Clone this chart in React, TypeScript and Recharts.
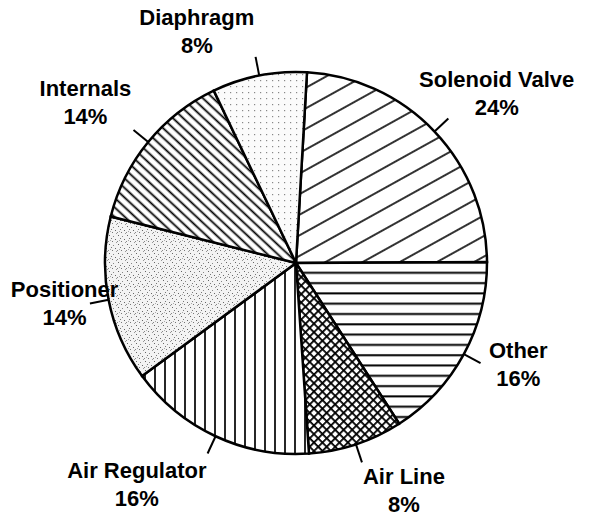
import { Cell, Pie, PieChart } from "recharts";

const categories = [
  "Solenoid Valve",
  "Other",
  "Air Line",
  "Air Regulator",
  "Positioner",
  "Internals",
  "Diaphragm",
];
const shares = [24, 16, 8, 16, 14, 14, 8];
const patterns = ["pSolenoid", "pOther", "pAirLine", "pAirReg", "pPositioner", "pInternals", "pDiaphragm"];

const data = categories.map((name, i) => ({ name, value: shares[i] }));

// hand-placed label layout from the original figure (offset from radial spot)
const labelNudge: Record<string, [number, number]> = {
  "Solenoid Valve": [23, -1],
  Other: [7, -16],
  "Air Line": [31, -6],
  "Air Regulator": [-56, -1],
  Positioner: [9, -7],
  Internals: [-21, -6],
  Diaphragm: [-52, 8],
};

const RAD = Math.PI / 180;

function renderLabel(props: any) {
  const { cx, cy, midAngle, outerRadius, name, value } = props;
  const cos = Math.cos(-midAngle * RAD);
  const sin = Math.sin(-midAngle * RAD);
  const [dx, dy] = labelNudge[name] ?? [0, 0];
  const lx = cx + 245 * cos + dx;
  const ly = cy + 245 * sin + dy;
  return (
    <g key={name}>
      <line
        x1={cx + outerRadius * cos}
        y1={cy + outerRadius * sin}
        x2={cx + (outerRadius + 19) * cos}
        y2={cy + (outerRadius + 19) * sin}
        stroke="#000"
        strokeWidth={2}
      />
      <text
        x={lx}
        textAnchor="middle"
        fill="#000"
        fontFamily="'Liberation Sans', Arial, sans-serif"
        fontWeight={700}
        fontSize={22}
      >
        <tspan x={lx} y={ly - 6}>{name}</tspan>
        <tspan x={lx} y={ly + 22}>{value}%</tspan>
      </text>
    </g>
  );
}

function Patterns() {
  return (
    <svg width={0} height={0} style={{ position: "absolute" }}>
      <defs>
        <pattern id="pSolenoid" patternUnits="userSpaceOnUse" width={18} height={18} patternTransform="rotate(-29)">
          <rect width={18} height={18} fill="#fff" />
          <line x1={0} y1={9} x2={18} y2={9} stroke="#000" strokeWidth={1.6} />
        </pattern>
        <pattern id="pOther" patternUnits="userSpaceOnUse" width={10} height={10.3}>
          <rect width={10} height={10.3} fill="#fff" />
          <line x1={0} y1={5} x2={10} y2={5} stroke="#000" strokeWidth={2} />
        </pattern>
        <pattern id="pAirLine" patternUnits="userSpaceOnUse" width={6} height={6} patternTransform="rotate(45)">
          <rect width={6} height={6} fill="#fff" />
          <line x1={0} y1={0.9} x2={6} y2={0.9} stroke="#000" strokeWidth={1.8} />
          <line x1={0.9} y1={0} x2={0.9} y2={6} stroke="#000" strokeWidth={1.8} />
        </pattern>
        <pattern id="pAirReg" patternUnits="userSpaceOnUse" width={10} height={10}>
          <rect width={10} height={10} fill="#fff" />
          <line x1={5} y1={0} x2={5} y2={10} stroke="#000" strokeWidth={1.7} />
        </pattern>
        <pattern id="pInternals" patternUnits="userSpaceOnUse" width={7} height={7} patternTransform="rotate(43)">
          <rect width={7} height={7} fill="#fff" />
          <line x1={0} y1={3.5} x2={7} y2={3.5} stroke="#000" strokeWidth={1.8} />
        </pattern>
        <pattern id="pPositioner" patternUnits="userSpaceOnUse" width={9} height={9}>
          <rect width={9} height={9} fill="#f3f3f3" />
          <rect x={1} y={1} width={1} height={1} fill="#666" />
          <rect x={5} y={2} width={1} height={1} fill="#888" />
          <rect x={3} y={4} width={1} height={1} fill="#777" />
          <rect x={7} y={5} width={1} height={1} fill="#666" />
          <rect x={0} y={7} width={1} height={1} fill="#888" />
          <rect x={4} y={7} width={1} height={1} fill="#777" />
          <rect x={8} y={8} width={1} height={1} fill="#999" />
          <rect x={2} y={6} width={1} height={1} fill="#aaa" />
        </pattern>
        <pattern id="pDiaphragm" patternUnits="userSpaceOnUse" width={6} height={6}>
          <rect width={6} height={6} fill="#fbfbfb" />
          <rect x={2} y={2} width={1.2} height={1.2} fill="#888" />
        </pattern>
      </defs>
    </svg>
  );
}

export default function App() {
  return (
    <div style={{ position: "absolute", left: 0, top: 0, width: 594, height: 521, background: "#fff" }}>
      <Patterns />
      <PieChart width={594} height={521} margin={{ top: 0, right: 0, bottom: 0, left: 0 }}>
        <Pie
          data={data}
          dataKey="value"
          nameKey="name"
          cx={296}
          cy={263}
          outerRadius={191}
          startAngle={86.7}
          endAngle={-273.3}
          stroke="#000"
          strokeWidth={2.5}
          label={renderLabel}
          labelLine={false}
          isAnimationActive={false}
        >
          {data.map((d, i) => (
            <Cell key={d.name} fill={`url(#${patterns[i]})`} />
          ))}
        </Pie>
      </PieChart>
    </div>
  );
}
